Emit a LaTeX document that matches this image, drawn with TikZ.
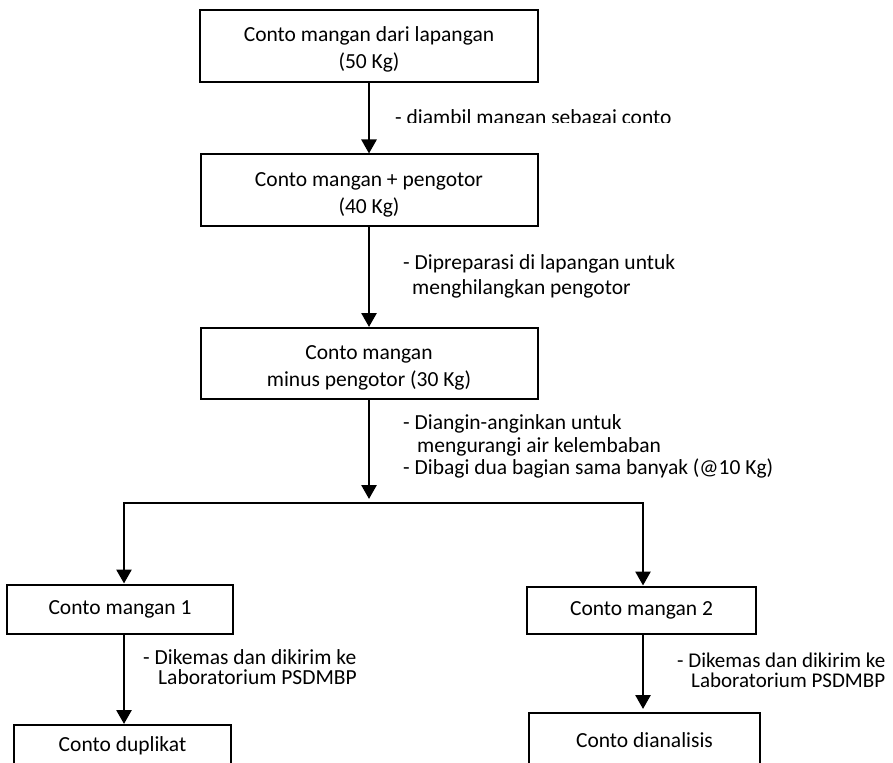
\documentclass[tikz,border=0pt]{standalone}
\usepackage{fontspec}
\setmainfont{Carlito}
\usetikzlibrary{arrows.meta}
\newcommand{\twoln}[2]{\rule{0pt}{24pt}#1\\#2\rule[-5pt]{0pt}{5pt}}
\begin{document}
\begin{tikzpicture}[x=1pt,y=-1pt,
  box/.style={draw, line width=2pt, fill=white, inner sep=0pt, align=center,
    font=\fontsize{21.5}{27}\selectfont},
  lab/.style={anchor=base west, inner sep=0pt, font=\fontsize{21.5}{25}\selectfont},
  arr/.style={line width=2.7pt, -{Triangle[length=14pt,width=15pt]}},
  ln/.style={line width=2.7pt}]
\useasboundingbox (0,0) rectangle (893,762);
\fill[white] (0,0) rectangle (893,762);

% boxes
\node[box, minimum width=338pt, minimum height=72pt] (b1) at (369,46) {\twoln{Conto mangan dari lapangan}{(50 Kg)}};
\node[box, minimum width=337pt, minimum height=71pt] (b2) at (369,190) {\twoln{Conto mangan + pengotor}{(40 Kg)}};
\node[box, minimum width=337pt, minimum height=71pt] (b3) at (369,363.5) {\twoln{Conto mangan}{minus pengotor (30 Kg)}};
\node[box, minimum width=226pt, minimum height=49pt] (b4) at (120,609) {Conto mangan 1};
\node[box, minimum width=229pt, minimum height=47pt] (b5) at (641.5,610) {Conto mangan 2};
\node[box, minimum width=217pt, minimum height=42pt] (b6) at (122.5,746) {Conto duplikat};
\node[box, minimum width=231pt, minimum height=54pt] (b7) at (644.5,740) {Conto dianalisis};

% connectors
\coordinate (sp) at (369,499);
\coordinate (L) at (124,503);
\coordinate (R) at (643,503);
\coordinate (M) at (380,503);
\draw[arr] (b1) -- (b2);
\draw[arr] (b2) -- (b3);
\draw[arr] (b3) -- (sp);
\draw[arr] (M) -- (L) -- (L |- b4.north);
\draw[arr] (M) -- (R) -- (R |- b5.north);
\draw[arr] (L |- b4.south) -- (L |- b6.north);
\draw[arr, shorten >=3pt] (R |- b5.south) -- (R |- b7.north);

% labels
\begin{scope}
\clip (380,90) rectangle (893,123);
\node[lab] (l1) at (395,124.5) {- diambil mangan sebagai conto};
\end{scope}
\node[lab] (l2a) at (403,269) {- Dipreparasi di lapangan untuk};
\node[lab] (l2b) at (412,294) {menghilangkan pengotor};
\node[lab] (l3a) at (403,429) {- Diangin-anginkan untuk};
\node[lab] (l3b) at (417,452) {mengurangi air kelembaban};
\node[lab] (l3c) at (403,474) {- Dibagi dua bagian sama banyak (@10 Kg)};
\node[lab] (l4a) at (143,664) {- Dikemas dan dikirim ke};
\node[lab] (l4b) at (158,684) {Laboratorium PSDMBP};
\node[lab, font=\fontsize{21}{25}\selectfont] (l5a) at (677,667) {- Dikemas dan dikirim ke};
\node[lab, font=\fontsize{21}{25}\selectfont] (l5b) at (691,687) {Laboratorium PSDMBP};
\end{tikzpicture}
\end{document}
